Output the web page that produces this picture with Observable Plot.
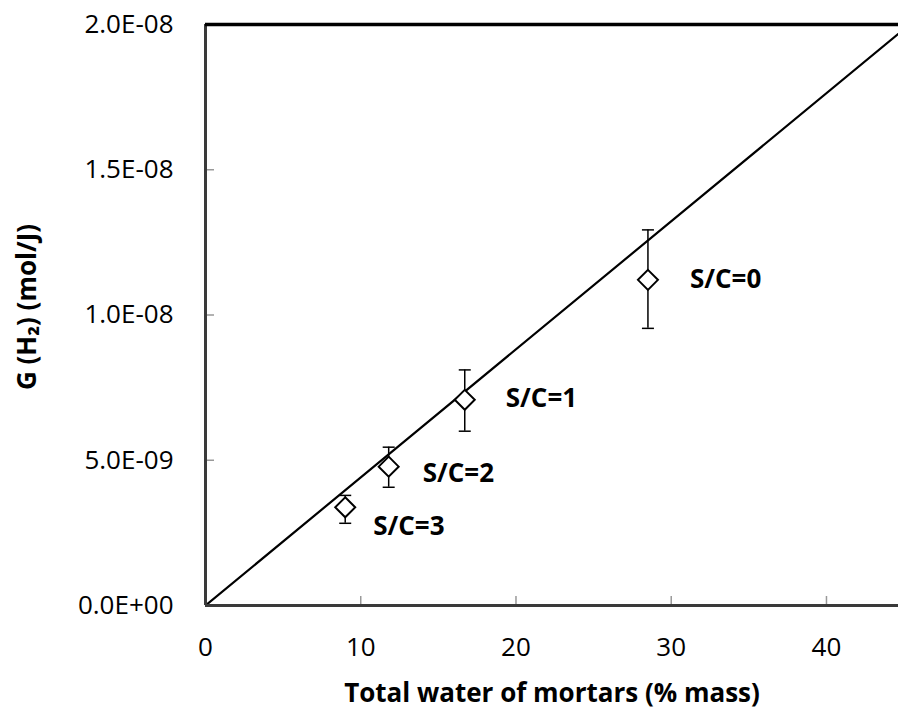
<!DOCTYPE html>
<html>
<head>
<meta charset="utf-8">
<script src="https://cdn.jsdelivr.net/npm/d3@7"></script>
<script src="https://cdn.jsdelivr.net/npm/@observablehq/plot@0.6"></script>
<style>
  html, body { margin: 0; padding: 0; background: #fff; }
  #chart svg { display: block; }
</style>
</head>
<body>
<div id="chart"></div>
<script>
// Data
const labels = ["S/C=0", "S/C=1", "S/C=2", "S/C=3"];
const water = [28.5, 16.7, 11.8, 9.0];          // Total water of mortars (% mass)
const gH2 = [1.121e-8, 7.08e-9, 4.78e-9, 3.38e-9];   // G(H2) mol/J
const gHi = [1.293e-8, 8.11e-9, 5.45e-9, 3.79e-9];   // upper error
const gLo = [9.54e-9, 6.00e-9, 4.07e-9, 2.83e-9];    // lower error
const fitX = [0, 45];
const fitY = [0, 1.984e-8];
const xTicks = [0, 10, 20, 30, 40];
const yTicks = [0, 5e-9, 1e-8, 1.5e-8, 2e-8];
const yTickLabels = ["0.0E+00", "5.0E-09", "1.0E-08", "1.5E-08", "2.0E-08"];

const points = labels.map((l, i) => ({label: l, x: water[i], y: gH2[i], hi: gHi[i], lo: gLo[i]}));
const fit = fitX.map((x, i) => ({x, y: fitY[i]}));

// label offsets (style, px)
const labelOffsets = {"S/C=0": [42, 0], "S/C=1": [41, -1], "S/C=2": [34, 7], "S/C=3": [28, 19]};

const capSymbol = {
  draw(context, size) {
    const r = Math.sqrt(size / Math.PI);
    context.moveTo(-r, 0);
    context.lineTo(r, 0);
  }
};

const font = "'Open Sans', sans-serif";

const chart = Plot.plot({
  width: 898,
  height: 709,
  marginLeft: 205,
  marginRight: 0,
  marginTop: 24,
  marginBottom: 104,
  style: {fontFamily: font, background: "#fff", color: "#000"},
  x: {domain: [0, 44.64], ticks: xTicks},
  y: {domain: [0, 2e-8], ticks: yTicks},
  marks: [
    // fit line
    Plot.line(fit, {x: "x", y: "y", stroke: "#000", strokeWidth: 2.2, clip: true}),
    // error bars
    Plot.ruleX(points, {x: "x", y1: "lo", y2: "hi", stroke: "#000", strokeWidth: 1.5}),
    Plot.dot(points, {x: "x", y: "hi", symbol: capSymbol, r: 6, stroke: "#000", strokeWidth: 1.5, fill: "none"}),
    Plot.dot(points, {x: "x", y: "lo", symbol: capSymbol, r: 6, stroke: "#000", strokeWidth: 1.5, fill: "none"}),
    // markers
    Plot.dot(points, {x: "x", y: "y", symbol: "diamond2", r: 9, fill: "#fff", stroke: "#000", strokeWidth: 2}),
    // labels
    ...points.map(p => Plot.text([p], {
      x: "x", y: "y", text: "label", textAnchor: "start",
      dx: labelOffsets[p.label][0], dy: labelOffsets[p.label][1],
      fontSize: 26, fontWeight: "bold", fill: "#000"
    })),
    // inward ticks
    Plot.axisX({ticks: xTicks, tickSize: 9, dy: -9, tickFormat: () => "", stroke: "#999", strokeWidth: 1.5, label: null}),
    Plot.axisY({ticks: yTicks, tickSize: 9, dx: 9, tickFormat: () => "", stroke: "#999", strokeWidth: 1.5, label: null}),
    // tick labels
    Plot.axisX({ticks: xTicks, tickSize: 0, tickPadding: 32, fontSize: 26, tickFormat: d => String(d), label: null}),
    Plot.axisY({ticks: yTicks, tickSize: 0, tickPadding: 32, fontSize: 26, tickFormat: (d, i) => yTickLabels[i], label: null}),
    // frame lines
    Plot.ruleX([0], {stroke: "#3a3a3a", strokeWidth: 3}),
    Plot.ruleY([0], {stroke: "#3a3a3a", strokeWidth: 3}),
    Plot.ruleY([2e-8], {stroke: "#000", strokeWidth: 3.5}),
    // axis titles
    Plot.text(["Total water of mortars (% mass)"], {frameAnchor: "bottom", textAnchor: "middle", lineAnchor: "middle", dy: 88, fontSize: 26, fontWeight: "bold", fill: "#000"}),
    Plot.text(["G (H\u2082) (mol/J)"], {frameAnchor: "left", textAnchor: "middle", lineAnchor: "middle", dx: -178, dy: -8, rotate: -90, fontSize: 26, fontWeight: "bold", fill: "#000"})
  ]
});

document.getElementById("chart").appendChild(chart);
</script>
</body>
</html>
